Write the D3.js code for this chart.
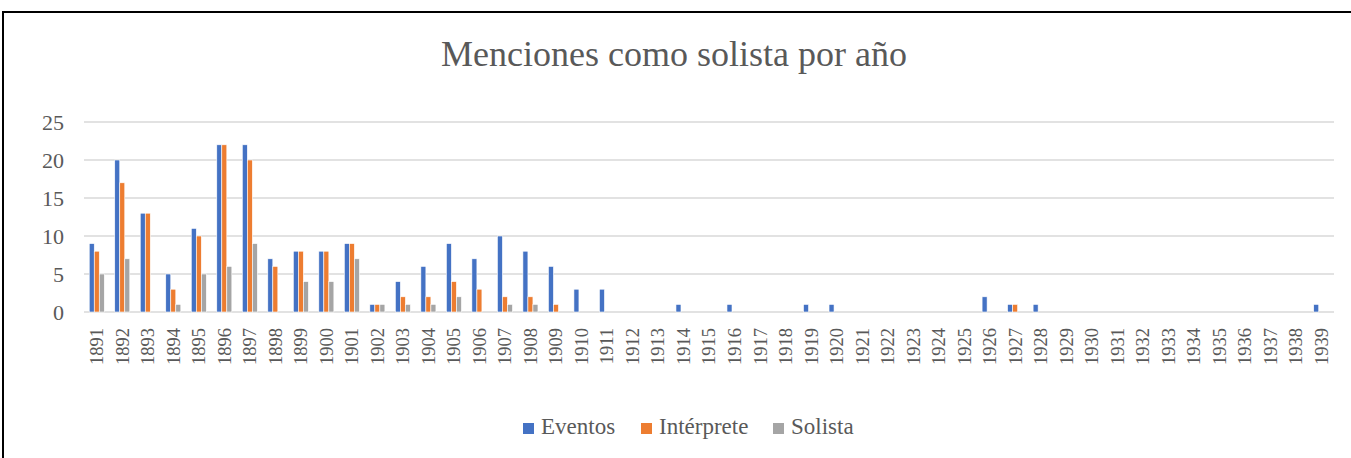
<!DOCTYPE html>
<html lang="es">
<head>
    <meta charset="UTF-8">
    <title>Menciones como solista por año</title>
    <style>
        body {
            margin: 0;
            padding: 0;
            background-color: #fff;
            overflow: hidden;
        }

        #chart text {
            font-family: "Liberation Serif", "Times New Roman", serif;
            fill: #595959;
        }
    </style>
</head>
<body>
    <div id="chart"></div>

    <script src="https://d3js.org/d3.v7.min.js"></script>
    <script>
        // years 1891..1939
        const years = ["1891", "1892", "1893", "1894", "1895", "1896", "1897", "1898", "1899", "1900",
            "1901", "1902", "1903", "1904", "1905", "1906", "1907", "1908", "1909", "1910",
            "1911", "1912", "1913", "1914", "1915", "1916", "1917", "1918", "1919", "1920",
            "1921", "1922", "1923", "1924", "1925", "1926", "1927", "1928", "1929", "1930",
            "1931", "1932", "1933", "1934", "1935", "1936", "1937", "1938", "1939"];

        const eventos = [9, 20, 13, 5, 11, 22, 22, 7, 8, 8,
            9, 1, 4, 6, 9, 7, 10, 8, 6, 3,
            3, 0, 0, 1, 0, 1, 0, 0, 1, 1,
            0, 0, 0, 0, 0, 2, 1, 1, 0, 0,
            0, 0, 0, 0, 0, 0, 0, 0, 1];

        const interprete = [8, 17, 13, 3, 10, 22, 20, 6, 8, 8,
            9, 1, 2, 2, 4, 3, 2, 2, 1, 0,
            0, 0, 0, 0, 0, 0, 0, 0, 0, 0,
            0, 0, 0, 0, 0, 0, 1, 0, 0, 0,
            0, 0, 0, 0, 0, 0, 0, 0, 0];

        const solista = [5, 7, 0, 1, 5, 6, 9, 0, 4, 4,
            7, 1, 1, 1, 2, 0, 1, 1, 0, 0,
            0, 0, 0, 0, 0, 0, 0, 0, 0, 0,
            0, 0, 0, 0, 0, 0, 0, 0, 0, 0,
            0, 0, 0, 0, 0, 0, 0, 0, 0];

        const seriesNames = ["Eventos", "Intérprete", "Solista"];
        const seriesColors = ["#4472C4", "#ED7D31", "#A5A5A5"];
        const yTicks = [0, 5, 10, 15, 20, 25];

        const width = 1351, height = 458;
        const plot = { left: 84, right: 1334, top: 122, bottom: 312 };

        const svg = d3.select("#chart")
            .append("svg")
            .attr("width", width)
            .attr("height", height);

        // chart frame (only top and left edges are in view)
        svg.append("path")
            .attr("d", `M3,${height + 5} L3,12 L${width + 5},12`)
            .attr("fill", "none")
            .attr("stroke", "#000")
            .attr("stroke-width", 2);

        svg.append("text")
            .attr("x", 674)
            .attr("y", 66)
            .attr("text-anchor", "middle")
            .attr("font-size", "36px")
            .text("Menciones como solista por año");

        const x = d3.scaleBand()
            .domain(years)
            .range([plot.left, plot.right])
            .paddingInner(0.41)
            .paddingOuter(0.205);

        const xInner = d3.scaleBand()
            .domain(seriesNames)
            .range([0, x.bandwidth()]);

        const y = d3.scaleLinear()
            .domain([0, 25])
            .range([plot.bottom, plot.top]);

        // gridlines
        svg.append("g")
            .selectAll("line")
            .data(yTicks)
            .enter().append("line")
            .attr("x1", plot.left)
            .attr("x2", plot.right)
            .attr("y1", d => y(d))
            .attr("y2", d => y(d))
            .attr("stroke", "#d9d9d9")
            .attr("stroke-width", 1.5);

        // y labels
        svg.append("g")
            .selectAll("text")
            .data(yTicks)
            .enter().append("text")
            .attr("x", 64)
            .attr("y", d => y(d))
            .attr("dy", "0.35em")
            .attr("text-anchor", "end")
            .attr("font-size", "22px")
            .text(d => d);

        // bars
        const allSeries = [eventos, interprete, solista];
        const rows = [];
        years.forEach((yr, i) => {
            seriesNames.forEach((s, k) => {
                rows.push({ year: yr, series: s, value: allSeries[k][i], color: seriesColors[k] });
            });
        });

        svg.append("g")
            .selectAll("rect")
            .data(rows.filter(d => d.value > 0))
            .enter().append("rect")
            .attr("x", d => x(d.year) + xInner(d.series))
            .attr("y", d => y(d.value))
            .attr("width", xInner.bandwidth())
            .attr("height", d => y(0) - y(d.value))
            .attr("fill", d => d.color)
            .attr("stroke", "#fff")
            .attr("stroke-width", 0.6);

        // x labels, rotated
        svg.append("g")
            .selectAll("text")
            .data(years)
            .enter().append("text")
            .attr("transform", d => `translate(${x(d) + x.bandwidth() / 2},328) rotate(-90)`)
            .attr("dy", "0.35em")
            .attr("text-anchor", "end")
            .attr("font-size", "18.5px")
            .text(d => d);

        // legend
        const legendX = [523, 641, 773];
        const legend = svg.append("g")
            .selectAll("g")
            .data(seriesNames)
            .enter().append("g")
            .attr("transform", (d, i) => `translate(${legendX[i]},423)`);

        legend.append("rect")
            .attr("width", 11)
            .attr("height", 11)
            .attr("fill", (d, i) => seriesColors[i]);

        legend.append("text")
            .attr("x", 18)
            .attr("y", 11)
            .attr("font-size", "23px")
            .text(d => d);
    </script>
</body>
</html>
